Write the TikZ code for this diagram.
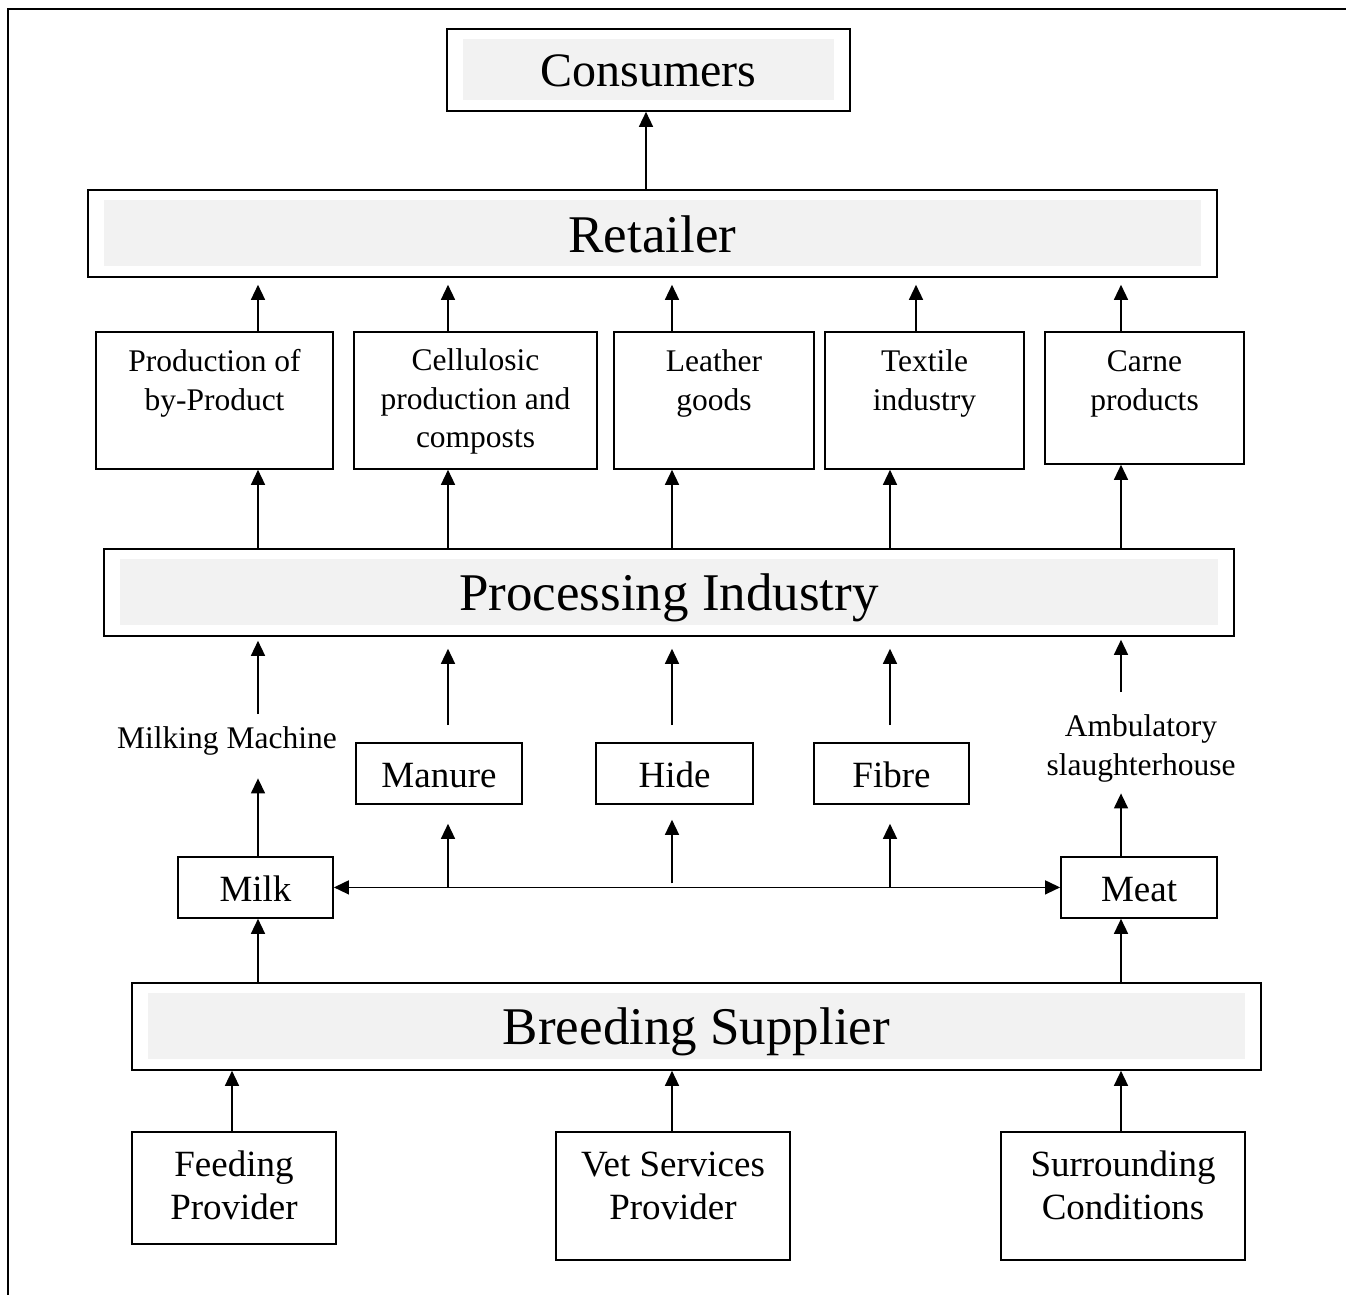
\documentclass[tikz,border=0pt]{standalone}
\usepackage{fontspec}
\setmainfont{Liberation Serif}
\usetikzlibrary{arrows.meta}
\definecolor{bandgray}{HTML}{F2F2F2}
\tikzset{
  box/.style={draw, line width=1.8pt, inner sep=0pt, align=center, anchor=north},
  plain/.style={inner sep=0pt, align=center, anchor=north},
  small/.style={font=\fontsize{31.5}{38.5}\selectfont},
  medium/.style={font=\fontsize{37}{43}\selectfont},
  unit/.style={box, medium, text height=45pt, text depth=16pt},
  banner/.style={box, font=\fontsize{53}{60}\selectfont,
    path picture={\fill[bandgray]
      ([xshift=16pt,yshift=-10.5pt]path picture bounding box.north west) rectangle
      ([xshift=-16pt,yshift=10.5pt]path picture bounding box.south east);}},
  arr/.style={line width=1.4pt, -{Triangle[width=14pt,length=15pt]}},
  arrboth/.style={line width=1.4pt, {Triangle[width=14pt,length=15pt]}-{Triangle[width=14pt,length=15pt]}},
}
\begin{document}
\begin{tikzpicture}[x=1pt, y=-1pt]
\useasboundingbox (0,0) rectangle (1346,1295);

% frame
\draw[line width=2pt] (8,1295) -- (8,9) -- (1346,9);

% column positions of the vertical links
\coordinate (xcons) at (646,0);
\coordinate (xa) at (258,0);
\coordinate (xb) at (448,0);
\coordinate (xc) at (672,0);
\coordinate (xd) at (890,0);
\coordinate (xdr) at (916,0);
\coordinate (xe) at (1121,0);
\coordinate (xf) at (232,0);

% top levels
\node[banner, font=\fontsize{48}{55}\selectfont, minimum width=403pt, text height=58pt, text depth=24pt] (consumers) at (648.5,28) {Consumers};
\node[banner, minimum width=1129pt, text height=63pt, text depth=24pt] (retailer) at (652.5,189) {Retailer};

% product lines (text height reaches the last baseline)
\node[box, small, minimum width=237pt, text height=78.5pt, text depth=58.5pt] (byprod) at (214.5,331) {Production of\\by-Product};
\node[box, small, minimum width=243pt, text height=116pt, text depth=21pt] (cellu) at (475.5,331) {Cellulosic\\production and\\composts};
\node[box, small, minimum width=200pt, text height=78.5pt, text depth=58.5pt] (leather) at (714,331) {Leather\\goods};
\node[box, small, minimum width=199pt, text height=78.5pt, text depth=58.5pt] (textile) at (924.5,331) {Textile\\industry};
\node[box, small, minimum width=199pt, text height=78.5pt, text depth=53.5pt] (carne) at (1144.5,331) {Carne\\products};

\node[banner, minimum width=1130pt, text height=62pt, text depth=25pt] (processing) at (669,548) {Processing Industry};

% raw materials
\node[plain, small, text height=34pt, text depth=30pt] (milking) at (227,714) {Milking Machine};
\node[unit, minimum width=166pt] (manure) at (439,742) {Manure};
\node[unit, minimum width=157pt] (hide) at (674.5,742) {Hide};
\node[unit, minimum width=155pt] (fibre) at (891.5,742) {Fibre};
\node[plain, small, text height=83pt, text depth=18pt] (ambul) at (1141,692) {Ambulatory\\slaughterhouse};

\node[unit, minimum width=155pt] (milk) at (255.5,856) {Milk};
\node[unit, minimum width=156pt] (meat) at (1139,856) {Meat};

\node[banner, minimum width=1129pt, text height=62pt, text depth=25pt] (breeding) at (696.5,982) {Breeding Supplier};

% inputs
\node[box, medium, minimum width=204pt, text height=88pt, text depth=24pt] (feeding) at (234,1131) {Feeding\\Provider};
\node[box, medium, minimum width=234pt, text height=88pt, text depth=40pt] (vet) at (673,1131) {Vet Services\\Provider};
\node[box, medium, minimum width=244pt, text height=88pt, text depth=40pt] (surround) at (1123,1131) {Surrounding\\Conditions};

% links
\draw[arr] (retailer.north -| xcons) -- (consumers.south -| xcons);

\draw[arr, shorten >=7pt] (byprod.north -| xa) -- (retailer.south -| xa);
\draw[arr, shorten >=7pt] (cellu.north -| xb) -- (retailer.south -| xb);
\draw[arr, shorten >=7pt] (leather.north -| xc) -- (retailer.south -| xc);
\draw[arr, shorten >=7pt] (textile.north -| xdr) -- (retailer.south -| xdr);
\draw[arr, shorten >=7pt] (carne.north -| xe) -- (retailer.south -| xe);

\draw[arr] (processing.north -| xa) -- (byprod.south -| xa);
\draw[arr] (processing.north -| xb) -- (cellu.south -| xb);
\draw[arr] (processing.north -| xc) -- (leather.south -| xc);
\draw[arr] (processing.north -| xd) -- (textile.south -| xd);
\draw[arr] (processing.north -| xe) -- (carne.south -| xe);

\draw[arr, shorten >=4pt] (milking.north -| xa) -- (processing.south -| xa);
\draw[arr, shorten <=17pt, shorten >=12pt] (manure.north -| xb) -- (processing.south -| xb);
\draw[arr, shorten <=17pt, shorten >=12pt] (hide.north -| xc) -- (processing.south -| xc);
\draw[arr, shorten <=17pt, shorten >=12pt] (fibre.north -| xd) -- (processing.south -| xd);
\draw[arr, shorten >=3pt] (ambul.north -| xe) -- (processing.south -| xe);

\draw[arr] (milk.north -| xa) -- (milking.south -| xa);
\draw[arr] (meat.north -| xe) -- (ambul.south -| xe);

\draw[arrboth] (milk.east) -- (meat.west);
\draw[arr, shorten >=19pt] (milk.east -| xb) -- (manure.south -| xb);
\draw[arr, shorten <=4pt, shorten >=15pt] (milk.east -| xc) -- (hide.south -| xc);
\draw[arr, shorten >=19pt] (milk.east -| xd) -- (fibre.south -| xd);

\draw[arr] (breeding.north -| xa) -- (milk.south -| xa);
\draw[arr] (breeding.north -| xe) -- (meat.south -| xe);

\draw[arr] (feeding.north -| xf) -- (breeding.south -| xf);
\draw[arr] (vet.north -| xc) -- (breeding.south -| xc);
\draw[arr] (surround.north -| xe) -- (breeding.south -| xe);
\end{tikzpicture}
\end{document}
